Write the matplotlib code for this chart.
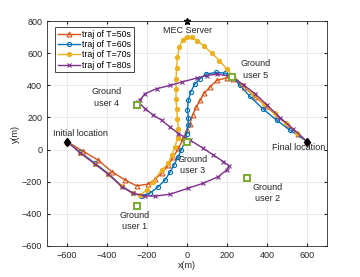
import matplotlib
matplotlib.use("Agg")
import matplotlib.pyplot as plt
import numpy as np

plt.rcParams['font.family'] = ['Liberation Sans', 'DejaVu Sans']

# ---- data ----
start = (-600, 50)
final = (600, 50)
mec = (0, 800)
users_x = [-250, 300, 0, -250, 225]
users_y = [-350, -175, 50, 275, 450]

t50_x = [-600, -520, -445, -377, -310, -252, -193, -160, -127, -93, -68, -43, -18, -2, 15, 28, 45, 65, 85, 115, 148, 198, 232,
         285, 340, 395, 450, 505, 555, 600]
t50_y = [50, -10, -65, -137, -189, -226, -214, -185, -148, -96, -45, 7, 69, 121, 162, 215, 262, 306, 350, 390, 430, 447, 441,
         390, 330, 270, 210, 150, 95, 50]

t60_x = [-600, -535, -460, -393, -327, -270, -230, -185, -143, -110, -85, -65, -45, -28, -10, -2, 5, 7, 2, 7, 18, 40, 65, 95,
         145, 190, 232, 265, 315, 378, 448, 515, 600]
t60_y = [50, -15, -85, -150, -225, -272, -288, -271, -230, -189, -140, -95, -45, 0, 50, 100, 150, 195, 249, 306, 358, 410, 441,
         470, 480, 476, 447, 399, 331, 255, 183, 121, 50]

t70_x = [-600, -535, -460, -393, -327, -272, -235, -202, -168, -127, -93, -77, -60, -47, -43, -48, -52, -55, -55, -55, -52,
         -48, -38, -22, 0, 25, 52, 85, 123, 162, 198, 232, 280, 330, 385, 440, 495, 550, 600]
t70_y = [50, -20, -90, -155, -228, -272, -285, -251, -199, -127, -86, -34, 17, 75, 131, 193, 255, 317, 379, 441, 510,
         575, 640, 685, 703, 698, 678, 643, 602, 554, 503, 455, 400, 345, 285, 225, 165, 105, 50]

t80_x = [-600, -535, -460, -393, -327, -272, -210, -160, -85, 7, 82, 157, 200, 210, 182, 132, 82, 15, -43, -85, -127, -168,
         -210, -243, -235, -210, -152, -85, -27, 48, 98, 150, 225, 280, 340, 401, 465, 528, 600]
t80_y = [50, -20, -90, -154, -230, -271, -288, -290, -278, -240, -209, -168, -125, -100, -75, -34, 7, 59, 100, 140, 183, 214,
         255, 296, 310, 348, 379, 399, 420, 445, 461, 470, 455, 405, 348, 276, 199, 131, 50]

user_labels = ["Ground\nuser 1", "Ground\nuser 2", "Ground\nuser 3", "Ground\nuser 4", "Ground\nuser 5"]
label_x = [-260, 405, 30, -400, 345]
label_y = [-445, -270, -96, 325, 498]

series = [
    ("traj of T=50s", t50_x, t50_y, "#D95319", "^", 3.5),
    ("traj of T=60s", t60_x, t60_y, "#0072BD", "o", 3.0),
    ("traj of T=70s", t70_x, t70_y, "#EDB120", "o", 2.8),
    ("traj of T=80s", t80_x, t80_y, "#7E2F8E", "x", 2.8),
]

fig = plt.figure(figsize=(3.6, 2.77), dpi=100)
ax = fig.add_axes([0.1306, 0.112, 0.7778, 0.812])

for lab, xs, ys, c, m, ms in series:
    if m == "o" and c == "#EDB120":
        ax.plot(xs, ys, color=c, marker=m, ms=ms, lw=1.0, mfc=c, mec=c, label=lab)
    else:
        ax.plot(xs, ys, color=c, marker=m, ms=ms, lw=1.0, mfc="none", mew=0.8, label=lab)

ax.plot(users_x, users_y, linestyle="none", marker="s", ms=4.5, mfc="white", mec="#77AC30", mew=1.4)
ax.plot([start[0], final[0]], [start[1], final[1]], linestyle="none", marker="d", ms=4.5, color="black")
ax.plot([mec[0]], [mec[1]], marker="*", ms=5, color="black", clip_on=False, linestyle="none")

fs = 6.5
for t, x, y in zip(user_labels, label_x, label_y):
    ax.text(x, y, t, ha="center", va="center", fontsize=fs, color="#262626", linespacing=1.35)
ax.text(0, 742, "MEC Server", ha="center", va="center", fontsize=fs, color="#262626")
ax.text(-535, 100, "Initial location", ha="center", va="center", fontsize=fs, color="#262626")
ax.text(557, 10, "Final location", ha="center", va="center", fontsize=fs, color="#262626")

ax.set_xlim(-700, 700)
ax.set_ylim(-600, 800)
ax.set_xticks(np.arange(-600, 601, 200))
ax.set_yticks(np.arange(-600, 801, 200))
ax.grid(True, color="#e6e6e6", lw=0.6)
ax.set_axisbelow(True)
ax.tick_params(labelsize=fs, colors="#262626", length=2, direction="in", top=True, right=True)
for s in ax.spines.values():
    s.set_color("#262626")
    s.set_linewidth(0.6)
ax.set_xlabel("x(m)", fontsize=fs, color="#262626", labelpad=1)
ax.set_ylabel("y(m)", fontsize=fs, color="#262626", labelpad=1)

leg = ax.legend(loc="upper left", fontsize=6.3, handlelength=2.5, borderpad=0.3, labelspacing=0.15,
                handletextpad=0.3, fancybox=False, edgecolor="#262626", framealpha=1,
                bbox_to_anchor=(0.029, 0.973, 0.3, 0.0), borderaxespad=0)
leg.get_frame().set_linewidth(0.6)

fig.savefig("out.png", dpi=100)
